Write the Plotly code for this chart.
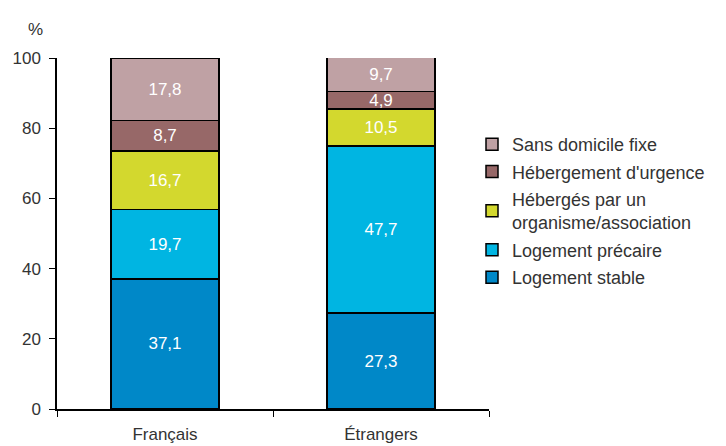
import plotly.graph_objects as go

# ── Données ───────────────────────────────────────────────────────────────────

groupes = ["Français", "Étrangers"]

series = [
    "Logement stable",
    "Logement précaire",
    "Hébergés par un<br>organisme/association",
    "Hébergement d'urgence",
    "Sans domicile fixe",
]
logement_stable = [37.1, 27.3]
logement_precaire = [19.7, 47.7]
heberges_organisme = [16.7, 10.5]
hebergement_urgence = [8.7, 4.9]
sans_domicile = [17.8, 9.7]

couleurs = ["#0088C8", "#00B5E2", "#D3D82E", "#976868", "#BFA1A4"]

valeurs = [logement_stable, logement_precaire, heberges_organisme,
           hebergement_urgence, sans_domicile]

POLICE = "Liberation Sans"
GRIS = "#333333"

# la page ajoute 8 px de marge autour de la figure
W, H = 718, 438
ML, MR, MT, MB = 49, 237, 50, 37

fig = go.Figure()

for i, (nom, vals, coul) in enumerate(zip(series, valeurs, couleurs)):
    fig.add_trace(go.Bar(
        x=groupes, y=vals, name=nom, legendgroup=f"g{i}",
        legendrank=len(series) - i,
        marker=dict(color=coul, line=dict(color="black", width=1.5)),
        text=[f"{v:.1f}".replace(".", ",") for v in vals],
        textposition="inside", insidetextanchor="middle",
        textangle=0, constraintext="none",
        textfont=dict(color="white", size=17, family=POLICE),
        width=0.5,
    ))

pw = W - ML - MR
ph = H - MT - MB

fig.add_annotation(
    text="%", xref="paper", yref="paper",
    x=(18 - ML) / pw, y=1 + (MT - 22) / ph,
    xanchor="left", yanchor="middle", showarrow=False,
    font=dict(size=17, color=GRIS, family=POLICE),
)

fig.update_layout(
    barmode="stack",
    width=W, height=H,
    margin=dict(l=ML, r=MR, t=MT, b=MB, autoexpand=False),
    plot_bgcolor="white", paper_bgcolor="white",
    font=dict(family=POLICE, size=17, color=GRIS),
    showlegend=True,
    legend=dict(
        traceorder="grouped",
        xref="paper", yref="paper",
        x=(464 - ML) / pw, y=1 - (118 - MT) / ph,
        xanchor="left", yanchor="top",
        font=dict(size=18, color=GRIS, family=POLICE),
        tracegroupgap=1, itemwidth=30,
    ),
    xaxis=dict(
        showline=True, linecolor="black", linewidth=1.5,
        ticks="outside", tickson="boundaries", ticklen=6, tickcolor="black",
        tickfont=dict(size=17, color=GRIS), ticklabelstandoff=9,
    ),
    yaxis=dict(
        range=[0, 100], dtick=20,
        showline=True, linecolor="black", linewidth=1.5,
        ticks="outside", ticklen=6, tickcolor="black",
        showgrid=False, zeroline=False,
        tickfont=dict(size=17, color=GRIS), ticklabelstandoff=5,
    ),
)

fig.write_html("out.html")
